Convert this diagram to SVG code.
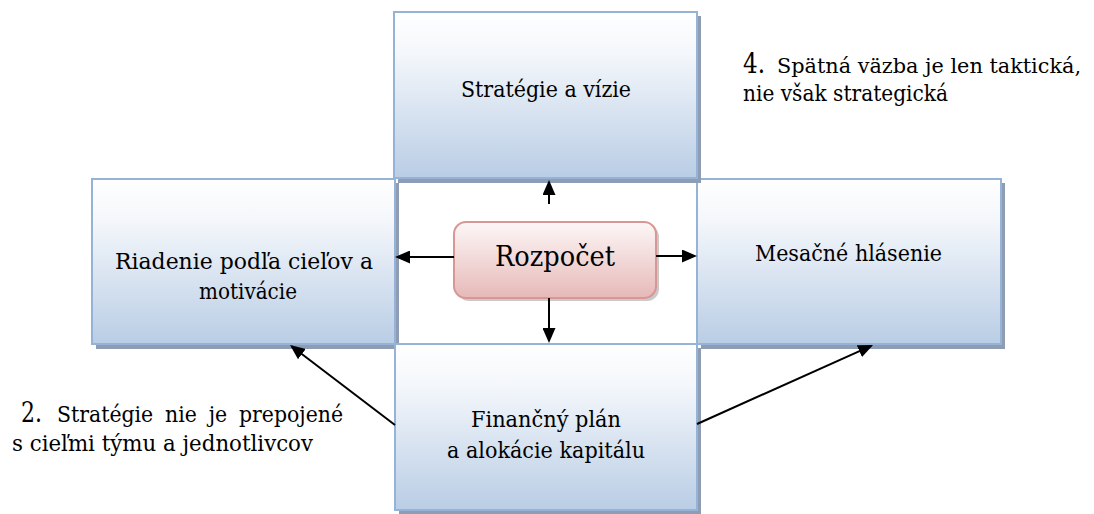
<svg xmlns="http://www.w3.org/2000/svg" width="1094" height="514" viewBox="0 0 1094 514">
  <defs>
    <linearGradient id="gBlue" x1="0" y1="0" x2="0" y2="1">
      <stop offset="0" stop-color="#ffffff"/>
      <stop offset="0.25" stop-color="#f4f7fb"/>
      <stop offset="1" stop-color="#b9cde5"/>
    </linearGradient>
    <linearGradient id="gPink" x1="0" y1="0" x2="0" y2="1">
      <stop offset="0" stop-color="#fdf7f7"/>
      <stop offset="1" stop-color="#e6b9b8"/>
    </linearGradient>
    <marker id="arr" markerUnits="userSpaceOnUse" viewBox="0 0 15 13" refX="13" refY="6.5" markerWidth="15" markerHeight="13" orient="auto">
      <path d="M0,0 L15,6.5 L0,13 z" fill="#000"/>
    </marker>
    <style>
      .shadow { fill: #8e9db3; }
      .box { fill: url(#gBlue); stroke: #95b3d7; stroke-width: 2; }
      .pbox { fill: url(#gPink); stroke: #d99694; stroke-width: 2; }
      .pshadow { fill: #a6a6a6; opacity: 0.6; }
      .t { font-family: 'DejaVu Serif', 'Liberation Serif', serif; font-size: 23px; fill: #000; }
      .big { font-size: 28px; }
      .conn { stroke: #000; stroke-width: 2; fill: none; marker-end: url(#arr); }
    </style>
  </defs>
  <rect width="1094" height="514" fill="#ffffff"/>

  <g id="node-riadenie">
    <rect class="shadow" x="96" y="183" width="303" height="166"/>
    <rect class="box" x="92" y="179" width="303" height="165"/>
    <text class="t" x="115" y="269" textLength="258" lengthAdjust="spacingAndGlyphs">Riadenie podľa cieľov a</text>
    <text class="t" x="199" y="299" textLength="98" lengthAdjust="spacingAndGlyphs">motivácie</text>
  </g>

  <g id="node-mesacne">
    <rect class="shadow" x="701" y="183" width="304" height="166"/>
    <rect class="box" x="697" y="179" width="304" height="165"/>
    <text class="t" x="755" y="261" textLength="187" lengthAdjust="spacingAndGlyphs">Mesačné hlásenie</text>
  </g>

  <g id="node-strategie">
    <rect class="shadow" x="398" y="16" width="303" height="167"/>
    <rect class="box" x="394" y="12" width="303" height="166"/>
    <text class="t" x="461" y="97" textLength="170" lengthAdjust="spacingAndGlyphs">Stratégie a vízie</text>
  </g>

  <g id="node-financny">
    <rect class="shadow" x="399" y="348" width="302" height="166"/>
    <rect class="box" x="395" y="344" width="302" height="166"/>
    <text class="t" x="471" y="427" textLength="150" lengthAdjust="spacingAndGlyphs">Finančný plán</text>
    <text class="t" x="447" y="458" textLength="198" lengthAdjust="spacingAndGlyphs">a alokácie kapitálu</text>
  </g>

  <g id="node-rozpocet">
    <rect class="pshadow" x="457" y="225" width="202" height="76" rx="12" ry="12"/>
    <rect class="pbox" x="454" y="222" width="202" height="76" rx="12" ry="12"/>
    <text class="t" x="495" y="266" style="font-size:28px" textLength="120" lengthAdjust="spacingAndGlyphs">Rozpočet</text>
  </g>

  <g id="connectors">
    <line class="conn" x1="549" y1="204" x2="549" y2="182"/>
    <line class="conn" x1="454" y1="257" x2="397" y2="257"/>
    <line class="conn" x1="656" y1="256" x2="695" y2="256"/>
    <line class="conn" x1="549" y1="298" x2="549" y2="341"/>
    <line class="conn" x1="395" y1="425" x2="291.6" y2="346.2"/>
    <line class="conn" x1="697" y1="424" x2="871.2" y2="345.8"/>
  </g>

  <g id="note-2">
    <text class="t big" x="21" y="422" textLength="21" lengthAdjust="spacingAndGlyphs">2.</text>
    <text class="t" x="57" y="422" textLength="286" lengthAdjust="spacingAndGlyphs" word-spacing="6">Stratégie nie je prepojené</text>
    <text class="t" x="12" y="451" textLength="301" lengthAdjust="spacingAndGlyphs">s cieľmi týmu a jednotlivcov</text>
  </g>

  <g id="note-4">
    <text class="t big" x="743" y="73" textLength="22" lengthAdjust="spacingAndGlyphs">4.</text>
    <text class="t" x="777" y="73" style="font-size:21px" textLength="304" lengthAdjust="spacingAndGlyphs">Spätná väzba je len taktická,</text>
    <text class="t" x="743" y="101" textLength="205" lengthAdjust="spacingAndGlyphs">nie však strategická</text>
  </g>
</svg>
